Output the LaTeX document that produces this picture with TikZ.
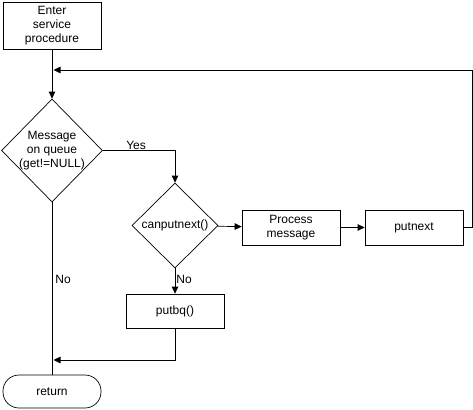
\documentclass[tikz,border=0pt]{standalone}
\usepackage{fontspec}
\setmainfont{Liberation Sans}
\usetikzlibrary{shapes,arrows.meta,positioning,calc}

\begin{document}
\begin{tikzpicture}[
    x=1pt, y=-1pt,
    auto,
    font=\fontsize{12}{14}\selectfont,
    every node/.style={line width=0.7pt},
    block/.style={
        rectangle,
        draw,
        text width=90pt,
        align=center,
        minimum width=98pt,
        minimum height=35pt,
        inner sep=0pt
    },
    test/.style={
        diamond,
        draw,
        aspect=1,
        align=center,
        inner sep=0pt
    },
    terminal/.style={
        rectangle,
        draw,
        rounded corners=16pt,
        minimum width=98pt,
        minimum height=33pt
    },
    line/.style={
        draw,
        -{Triangle[length=7pt,width=6.5pt]},
        line width=0.7pt
    },
    lbl/.style={
        inner sep=1pt
    }
]
    \useasboundingbox (0,0) rectangle (473,409);

    % Entry
    \node [block, minimum height=47pt] (enter) at (52,25.5) {Enter\\service\\procedure};

    % Tests
    \node [test, inner sep=-3pt, minimum width=101pt, minimum height=103pt] (msg) at (52,150.5) {Message\\on queue\\(get!=NULL)};
    \node [test, minimum width=86pt, minimum height=85pt] (canput) at (175,225.5) {canputnext()};

    % Actions
    \node [block] (process) at (291,227.5) {Process\\message};
    \node [block] (putnext) at (414,227.5) {putnext};
    \node [block, minimum height=34pt] (putbq) at (175,311) {putbq()};

    % Exit
    \node [terminal] (ret) at (52,391.5) {return};

    % Joins
    \coordinate (back) at (472,70);
    \coordinate (loop) at (52,70);
    \coordinate (out) at (52,360);

    % Edges
    \path [line] (enter) -- (msg);
    \path [line] (msg.east) -| node [lbl, pos=0.23, above] {Yes} (canput.north);
    \path [line] (canput) -- (process);
    \path [line] (process) -- (putnext);
    \path [line, shorten >=1.5pt] (putnext.east) -| (back) -- (loop);
    \path [line] (canput.south) -- node [lbl, pos=0.45, right] {No} (putbq.north);
    \path [line, shorten >=1.5pt] (putbq.south) |- (out);
    \draw [line width=0.7pt] (msg.south) -- node [lbl, pos=0.45, right=2pt] {No} (ret.north);

\end{tikzpicture}
\end{document}
